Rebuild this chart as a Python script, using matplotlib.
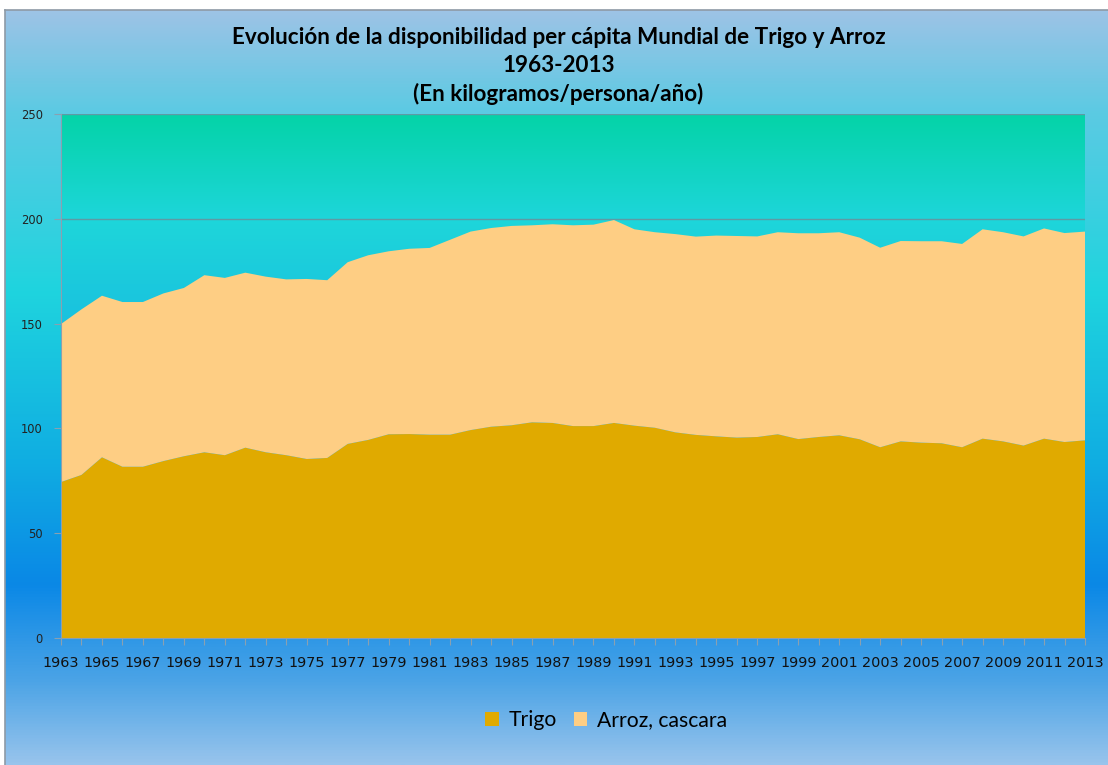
import matplotlib
matplotlib.use("Agg")
import matplotlib.pyplot as plt
import numpy as np
from matplotlib.colors import LinearSegmentedColormap
from matplotlib.patches import Patch

years = list(range(1963, 2014))
trigo = [74.4, 77.8, 86.2, 81.7, 81.7, 84.4, 86.7, 88.6, 87.2, 90.8,
         88.6, 87.2, 85.4, 85.9, 92.6, 94.5, 97.2, 97.3, 97.0, 97.0,
         99.2, 100.8, 101.5, 102.9, 102.6, 101.1, 101.1, 102.6, 101.3, 100.3,
         98.1, 96.9, 96.2, 95.6, 95.9, 97.2, 94.9, 95.9, 96.7, 94.8,
         91.0, 93.8, 93.2, 92.9, 91.0, 95.1, 93.8, 91.8, 95.1, 93.5, 94.3]
arroz = [75.4, 79.0, 77.1, 78.6, 78.6, 80.0, 80.3, 84.5, 84.6, 83.5,
         83.8, 83.9, 85.9, 84.8, 86.7, 88.1, 87.3, 88.4, 89.1, 93.0,
         94.7, 94.8, 95.1, 94.0, 94.8, 95.8, 96.1, 96.8, 93.7, 93.3,
         94.6, 94.6, 95.8, 96.2, 95.7, 96.4, 98.2, 97.2, 96.9, 96.2,
         95.2, 95.6, 96.1, 96.4, 97.0, 99.9, 99.8, 99.8, 100.3, 99.7, 99.6]
series_names = ["Trigo", "Arroz, cascara"]
colors = ["#E0AA00", "#FECE84"]
yticks = [0, 50, 100, 150, 200, 250]
title = "Evolución de la disponibilidad per cápita Mundial de Trigo y Arroz\n1963-2013\n(En kilogramos/persona/año)"

W, H = 1108, 765
fig = plt.figure(figsize=(W / 100, H / 100), dpi=100)
fig.patch.set_facecolor("white")

# figure background gradient
bg = fig.add_axes([5 / W, 0, 1 - 5 / W, (H - 10) / H], zorder=-10)
stops = [(0.0, "#9DC3E6"), (100 / 755, "#5CCAE3"), (280 / 755, "#1FD4DE"),
         (450 / 755, "#10AEE2"), (575 / 755, "#0A88E6"), (670 / 755, "#4AA3E6"),
         (1.0, "#98C4EC")]
cmap_bg = LinearSegmentedColormap.from_list("bg", stops)
grad = np.linspace(0, 1, 512).reshape(-1, 1)
bg.imshow(grad, aspect="auto", cmap=cmap_bg, extent=[0, 1, 1, 0])
bg.set_xlim(0, 1)
bg.set_ylim(1, 0)
bg.set_xticks([])
bg.set_yticks([])
for s in ["right", "bottom"]:
    bg.spines[s].set_visible(False)
for s in ["left", "top"]:
    bg.spines[s].set_color("#8E9AA6")
    bg.spines[s].set_linewidth(1.2)

# main axes
ax = fig.add_axes([61 / W, 1 - 638 / H, (1085 - 61) / W, (638 - 114) / H])
ax.patch.set_alpha(0)
pstops = [(0.0, "#0A90E0"), (0.55, "#18BCE0"), (0.8, "#1ED6DA"), (1.0, "#04D3A8")]
cmap_p = LinearSegmentedColormap.from_list("pa", pstops)
ax.imshow(np.linspace(1, 0, 512).reshape(-1, 1), aspect="auto", cmap=cmap_p,
          extent=[years[0], years[-1], 0, 250], zorder=0, vmin=0, vmax=1)

for yv in yticks[1:]:
    ax.axhline(yv, color="#5E9AA4", lw=1.0, zorder=1)

ax.stackplot(years, trigo, arroz, colors=colors, zorder=2, linewidth=0)

ax.set_xlim(years[0], years[-1])
ax.set_ylim(0, 250)
ax.set_yticks(yticks)
ax.set_yticklabels([str(v) for v in yticks], fontsize=8.3, color="#222222",
                   family="DejaVu Sans")
ax.set_xticks(years)
ax.set_xticklabels([str(y) if (y - 1963) % 2 == 0 else "" for y in years],
                   fontsize=10.4, color="#111111", family="DejaVu Sans")
ax.tick_params(axis="x", length=5, color="#8AA0B0", pad=8)
ax.tick_params(axis="y", length=5, color="#8AA0B0", pad=8)
for s in ["top", "right"]:
    ax.spines[s].set_visible(False)
ax.spines["left"].set_color("#8AA0B0")
ax.spines["bottom"].set_color("#8AA0B0")
ax.spines["left"].set_zorder(3)

fig.text(0.504, 1 - 66 / H, title, ha="center", va="center", fontsize=16.2,
         fontweight="bold", family="Lato", linespacing=1.42, color="#000000")

handles = [Patch(facecolor=c, edgecolor="none") for c in colors]
fig.legend(handles, series_names, loc="center", bbox_to_anchor=(606 / W, 1 - 720 / H),
           ncol=2, frameon=False, prop={"family": "Lato", "size": 15.2},
           handlelength=0.65, handleheight=0.65, handletextpad=0.45, columnspacing=0.8)

fig.savefig("out.png", dpi=100, facecolor="white")
